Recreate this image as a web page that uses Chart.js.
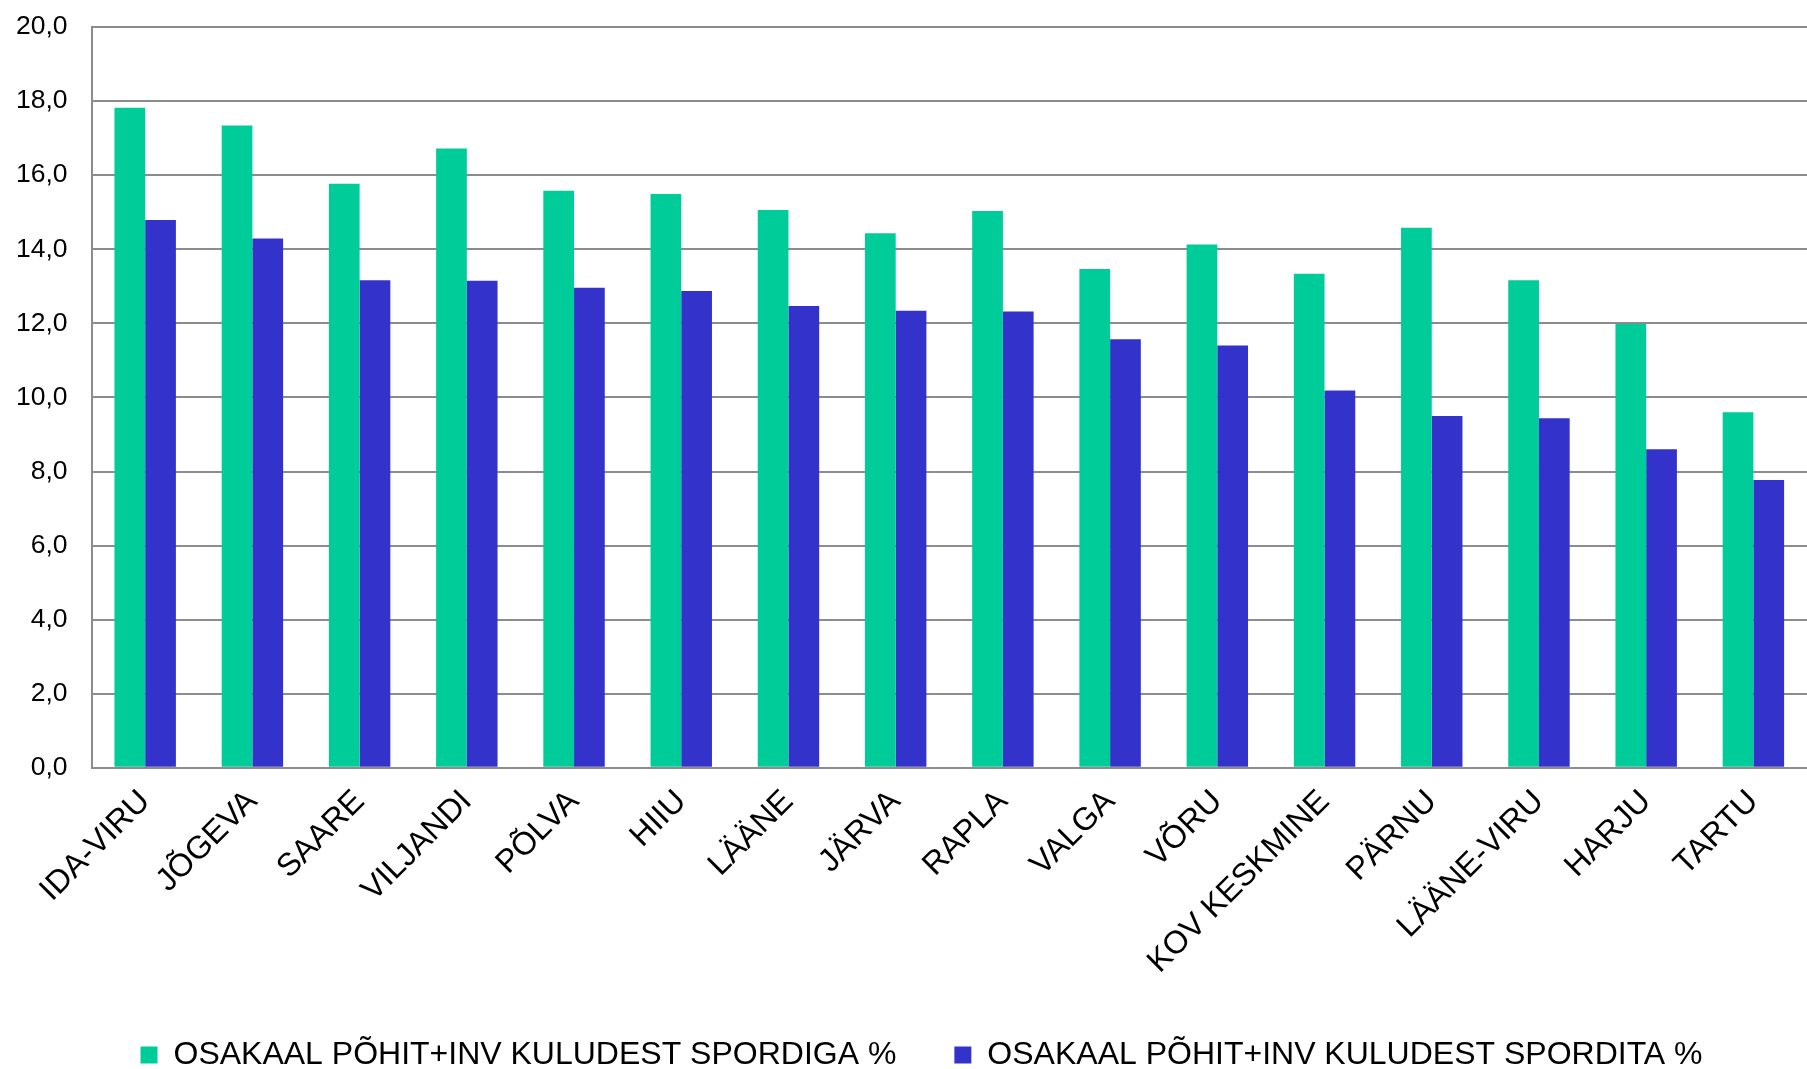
<!DOCTYPE html>
<html>
<head>
<meta charset="utf-8">
<title>Osakaal põhit+inv kuludest</title>
<script src="https://cdn.jsdelivr.net/npm/chart.js@4.4.1/dist/chart.umd.min.js"></script>
<style>
  html, body { margin: 0; padding: 0; background: #ffffff; }
  #wrap { width: 1807px; height: 1069px; }
</style>
</head>
<body>
<div id="wrap"><canvas id="chart" width="1807" height="1069"></canvas></div>
<script>
// maakonnad (categories)
const counties = [
  "IDA-VIRU", "JÕGEVA", "SAARE", "VILJANDI", "PÕLVA", "HIIU", "LÄÄNE", "JÄRVA",
  "RAPLA", "VALGA", "VÕRU", "KOV KESKMINE", "PÄRNU", "LÄÄNE-VIRU", "HARJU", "TARTU"
];

// series values
const withSport = [17.82, 17.34, 15.77, 16.72, 15.58, 15.49, 15.06, 14.43, 15.03, 13.47, 14.13, 13.34, 14.58, 13.16, 11.98, 9.6];
const withoutSport = [14.79, 14.29, 13.16, 13.15, 12.96, 12.87, 12.47, 12.34, 12.32, 11.57, 11.4, 10.19, 9.5, 9.44, 8.6, 7.77];

const seriesNames = [
  "OSAKAAL PÕHIT+INV KULUDEST SPORDIGA %",
  "OSAKAAL PÕHIT+INV KULUDEST SPORDITA %"
];

const yMin = 0;
const yMax = 20;
const yStep = 2;

const fontFamily = "'Liberation Sans', Arial, sans-serif";
const gridColor = "#8c8c8c";

// legend sits a bit right of the canvas centre in the original
const legendNudge = {
  id: "legendNudge",
  afterLayout(chart) {
    if (chart.legend) {
      chart.legend.left += 44;
    }
  },
};

const ctx = document.getElementById("chart").getContext("2d");
new Chart(ctx, {
  type: "bar",
  data: {
    labels: counties,
    datasets: [
      {
        label: seriesNames[0],
        data: withSport,
        backgroundColor: "#00CC99",
        borderWidth: 0,
        barPercentage: 1.0,
        categoryPercentage: 0.573,
      },
      {
        label: seriesNames[1],
        data: withoutSport,
        backgroundColor: "#3333CC",
        borderWidth: 0,
        barPercentage: 1.0,
        categoryPercentage: 0.573,
      },
    ],
  },
  plugins: [legendNudge],
  options: {
    responsive: false,
    animation: false, // static picture
    layout: {
      padding: { left: -8, right: 0, top: 27, bottom: -12 },
    },
    plugins: {
      tooltip: { enabled: false },
      legend: {
        position: "bottom",
        labels: {
          color: "#000000",
          font: { family: fontFamily, size: 32 },
          boxWidth: 17,
          boxHeight: 17,
          padding: 58,
        },
      },
    },
    scales: {
      x: {
        grid: { display: false, drawTicks: false },
        border: { display: true, color: gridColor, width: 2 },
        ticks: {
          color: "#000000",
          font: { family: fontFamily, size: 32 },
          minRotation: 45,
          maxRotation: 45,
          autoSkip: false,
          padding: 15,
        },
        // rotated labels hang left into the y axis area, don't let them push the plot
        afterFit: (scale) => {
          scale.paddingLeft = 0;
          scale.paddingRight = 0;
          scale.height -= 15;
        },
      },
      y: {
        min: yMin,
        max: yMax,
        grid: { color: gridColor, lineWidth: 2, drawTicks: false },
        border: { display: true, color: gridColor, width: 2 },
        ticks: {
          stepSize: yStep,
          color: "#000000",
          font: { family: fontFamily, size: 26.5 },
          padding: 24,
          callback: (value) => value.toFixed(1).replace(".", ","),
        },
        afterFit: (scale) => {
          scale.paddingTop = 0;
        },
      },
    },
  },
});
</script>
</body>
</html>
